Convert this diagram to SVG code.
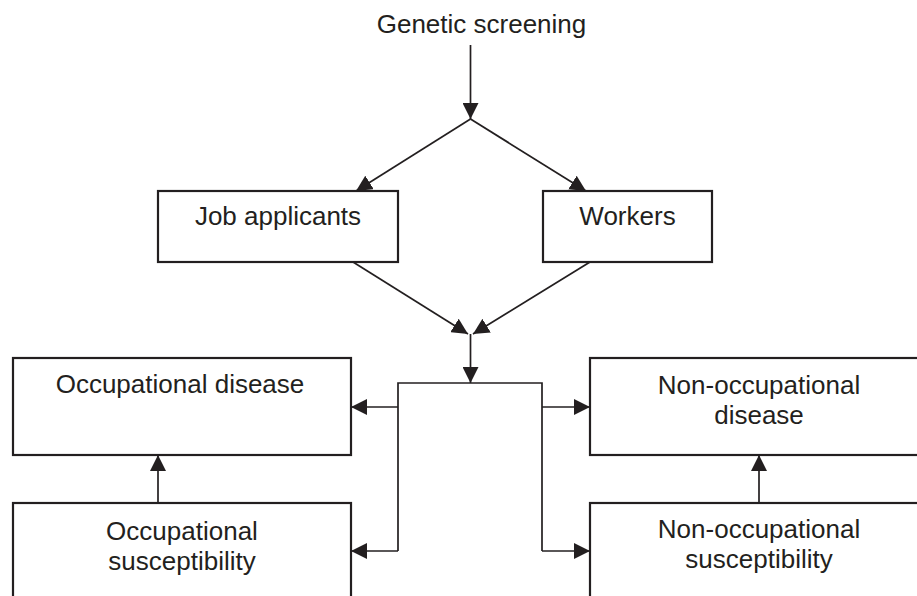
<svg xmlns="http://www.w3.org/2000/svg" width="917" height="596" viewBox="0 0 917 596">
<style>
.box{fill:#ffffff;stroke:#231f20;stroke-width:2.2}
.t{font-family:"Liberation Sans",Arial,sans-serif;font-size:26px;fill:#231f20;text-anchor:middle}
.c{fill:none;stroke:#231f20;stroke-width:1.7}
.a{marker-end:url(#ah)}
</style>
<defs>
<marker id="ah" markerUnits="userSpaceOnUse" markerWidth="16" markerHeight="16" refX="15" refY="7.5" orient="auto" viewBox="0 0 15 15">
<path d="M0,0 L15,7.5 L0,15 z" fill="#231f20"/>
</marker>
</defs>
<rect width="917" height="596" fill="#ffffff"/>
<g id="genetic-screening"><text class="t" x="481.5" y="33">Genetic screening</text></g>
<g id="job-applicants"><rect class="box" x="158" y="191" width="240" height="71"/><text class="t" x="278" y="225">Job applicants</text></g>
<g id="workers"><rect class="box" x="543" y="191" width="169" height="71"/><text class="t" x="627.5" y="225">Workers</text></g>
<g id="occupational-disease"><rect class="box" x="13" y="358" width="338" height="97"/><text class="t" x="180" y="393">Occupational disease</text></g>
<g id="occupational-susceptibility"><rect class="box" x="13" y="503" width="338" height="110"/><text class="t" x="182" y="540">Occupational</text><text class="t" x="182" y="570">susceptibility</text></g>
<g id="non-occupational-disease"><rect class="box" x="590" y="358" width="338" height="97"/><text class="t" x="759" y="394">Non-occupational</text><text class="t" x="759" y="424">disease</text></g>
<g id="non-occupational-susceptibility"><rect class="box" x="590" y="503" width="338" height="110"/><text class="t" x="759" y="538">Non-occupational</text><text class="t" x="759" y="568">susceptibility</text></g>
<g id="connectors">
<path class="c a" d="M470.5,45 V119"/>
<path class="c a" d="M470.5,119 L356,191"/>
<path class="c a" d="M470.5,119 L586,191"/>
<path class="c a" d="M353,262 L468,334"/>
<path class="c a" d="M590,262 L473,334"/>
<path class="c a" d="M470.5,334 V383"/>
<path class="c" d="M398,551 V383 H542 V551"/>
<path class="c a" d="M398,407 H351"/>
<path class="c a" d="M398,551 H351"/>
<path class="c a" d="M542,407 H590"/>
<path class="c a" d="M542,551 H590"/>
<path class="c a" d="M158,503 V455"/>
<path class="c a" d="M759,503 V455"/>
</g>
</svg>
